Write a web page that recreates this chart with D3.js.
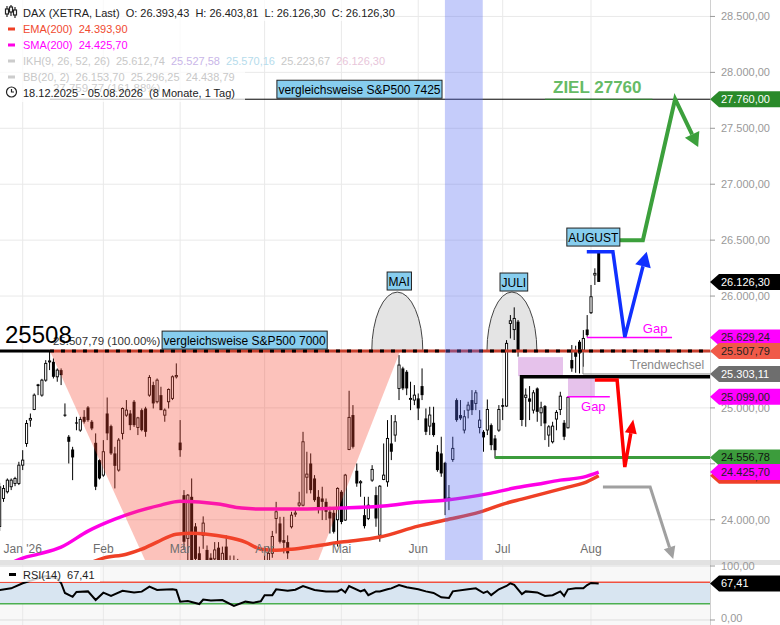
<!DOCTYPE html>
<html>
<head>
<meta charset="utf-8">
<script src="https://cdn.jsdelivr.net/npm/d3@7"></script>
<style>
  html, body { margin: 0; padding: 0; background: #fff; }
  svg { display: block; font-family: "Liberation Sans", Arial, sans-serif; }
  text { white-space: pre; }
</style>
</head>
<body>
<svg id="chart" width="780" height="625"></svg>
<script>
// ---- data (index = trading day since 18.12.2025) ----
const priceTicks = [24000, 24500, 25000, 25500, 26000, 26500, 27000, 27500, 28000, 28500];
const monthNames = ["Jan '26", "Feb", "Mär", "Apr", "Mai", "Jun", "Jul", "Aug"];
const monthIdx = [6, 27, 47, 69, 89, 109, 131, 154];

const o = [
23940,24190,24250,24295,24324,24324,24488,24682,24891,24986,
25210,25114,25248,25412,25412,25278,25338,24940,24742,24628,
24870,24801,24920,25004,24876,24688,24533,24399,24950,24837,
24593,24444,24772,24935,24950,25055,24825,24980,24995,25114,
25204,25055,25114,24935,25055,25085,25278,24690,24220,23833,
24205,23940,23700,23860,23730,23660,23650,23750,23620,23760,
23620,23530,23600,23500,23560,23470,23540,23480,23570,23500,
23600,23700,24011,23967,23818,23800,23937,24050,24130,24130,
24380,24503,24369,24205,24190,24160,24071,24062,24000,24250,
23997,24628,24936,24438,24330,24041,24011,24354,24220,23862,
24360,24339,24682,24757,25174,25353,25323,25078,25070,25085,
25195,24906,24837,24867,24608,24593,24509,24190,24539,25070,
24936,24802,24980,25070,25040,24825,24786,24802,24846,24727,
24801,25025,25016,25755,25700,25771,25270,25094,25085,24980,
25174,24956,25016,24757,24697,24900,24986,24867,24822,25428,
25517,25591,25517,25701,25851,26188,26393.43];
const h = [
24330,24310,24369,24369,24384,24518,24622,24891,24950,25129,
25215,25260,25427,25508,25442,25353,25353,25040,24757,24652,
24920,24920,24980,25016,24891,24772,24540,24712,25093,24850,
24652,24730,25004,25070,24980,25070,24920,24995,25010,25293,
25234,25263,25189,24995,25174,25290,25398,24891,24265,24230,
24369,23970,23760,24030,23770,23700,23800,23800,23760,23860,
23680,23680,23650,23640,23610,23600,23580,23620,23610,23680,
23760,23900,24160,24026,24026,23860,24071,24100,24250,24786,
24608,24593,24399,24265,24295,24190,24116,24086,24290,24265,
24410,25153,25025,24503,24354,24205,24205,24488,24295,24310,
24682,24891,24936,24936,25472,25368,25338,25234,25204,25129,
25353,24995,25010,25010,24667,24742,24518,24310,24742,25085,
25070,24980,25055,25159,25159,24980,24801,25075,24861,24757,
25025,25085,25606,25830,25899,25786,25284,25174,25195,25159,
25183,25055,25025,24846,24876,24980,25144,24891,25100,25562,
25556,25606,25696,25830,26099,26248,26403.81];
const l = [
23900,24160,24235,24265,24300,24310,24444,24652,24831,24980,
25114,25100,25234,25338,25263,25234,25204,24920,24503,24354,
24800,24786,24860,24876,24801,24265,24360,24384,24712,24580,
24280,24430,24718,24920,24801,24830,24757,24790,24742,25100,
24995,25040,24980,24876,24995,25070,25263,24563,23729,23620,
23594,23550,23450,23740,23500,23480,23580,23550,23560,23560,
23440,23450,23420,23440,23400,23420,23400,23430,23440,23450,
23560,23660,23877,23788,23699,23650,23922,24026,24116,24120,
24235,24235,24160,24056,23997,23997,23877,23877,23760,23960,
23990,24622,24637,24295,24205,23922,23997,24339,23937,23803,
24354,24295,24533,24697,25070,25159,25114,24980,25025,24891,
25070,24757,24757,24742,24429,24384,24041,24086,24518,24876,
24891,24772,24906,24936,24980,24772,24608,24757,24622,24548,
24786,24891,25010,25621,25607,25458,24837,24831,24891,24950,
24876,24837,24712,24652,24682,24800,24936,24712,24816,25323,
25314,25308,25368,25636,25840,26099,26126.30];
const c = [
24294,24280,24354,24354,24369,24488,24533,24861,24906,25114,
25195,25248,25398,25420,25278,25338,25293,24930,24697,24557,
24860,24897,24876,24891,24816,24295,24369,24608,24772,24593,
24482,24712,24995,24980,24846,24846,24911,24801,24786,25272,
25040,25248,24980,24980,25165,25278,25290,24622,23803,24220,
23639,23650,23550,23970,23580,23560,23730,23610,23700,23600,
23520,23620,23500,23580,23460,23550,23470,23560,23500,23620,
23700,23850,24071,23803,23794,23700,24041,24060,24150,24697,
24408,24265,24175,24101,24160,24071,24011,23892,24280,23980,
24399,24915,24652,24324,24340,23943,24130,24450,24011,24300,
24399,24727,24608,24876,25383,25174,25174,25085,25114,24995,
25114,24786,24936,24757,24444,24414,24175,24196,24638,24891,
24906,24921,25025,24980,25135,24891,24736,24986,24667,24622,
24986,25010,25577,25779,25800,25503,24895,25114,25055,25135,
24965,25001,24861,24831,24837,24960,25105,24742,25094,25353,
25457,25487,25621,25651,25994,26203,26126.30];

const sma200 = [[0,23560],[6,23657],[10,23692],[16,23755],[23,23898],[30,24005],[36,24077],[42,24131],
  [47,24166],[52,24158],[57,24140],[63,24104],[68,24095],[78,24095],[89,24104],[100,24122],[109,24158],
  [116,24175],[122,24202],[128,24238],[134,24283],[140,24318],[146,24354],[152,24381],[156,24425.70]];
const ema200 = [[0,23300],[20,23560],[27,23657],[33,23692],[37,23737],[41,23800],[46,23871],[50,23880],
  [54,23871],[59,23845],[64,23800],[68,23737],[72,23728],[76,23737],[82,23764],[89,23800],[99,23845],
  [109,23943],[116,23997],[125,24068],[132,24149],[136,24184],[142,24238],[148,24292],[152,24327],[156,24393.90]];
const rsi14 = [[0,55.6],[3,58.7],[6,68],[9,75],[12,81.5],[15,76.6],[16,68.5],[17,50],[19,43],[20,52],[23,53],
  [25,37],[27,50.6],[29,44.4],[32,54],[35,51],[37,52.5],[39,61.7],[41,55.6],[42,56],[45,57],[46,55.6],[47,34],
  [49,35],[52,29.6],[53,38],[55,36],[58,37],[61,26],[64,34],[66,32],[68,34.6],[69,46],[71,46],[72,56.8],[75,54],
  [77,56],[79,63],[82,55.6],[85,53],[88,53],[89,56.8],[90,51],[91,63],[94,53],[95,56],[96,46],[98,53],[99,53],
  [101,56.8],[102,58.6],[104,64.8],[106,60.5],[109,56.8],[111,53],[113,50],[115,42],[117,40.7],[118,53],
  [122,56.8],[124,58.6],[126,50],[127,53],[128,46],[130,56.8],[132,63],[133,68],[134,65],[136,48],[137,53],
  [140,51],[142,44.4],[144,46],[146,53],[147,44.4],[148,56.8],[150,58.6],[152,58.6],[153,64.8],[154,68.7],[156,67.41]];

// levels and drawings (index, price)
const fibBase = 25507.79, fibTarget = 27759.77, fibStart = 13.1;
const triangle = [[13.1, 25508], [104.3, 25508], [62.1, 21808]];
const humps = [["MAI", 96.9, 110.2], ["JULI", 126.9, 139.9]];
const humpTop = 26036;
const bandIdx = [115.95, 125.8];
const gapBoxes = [[135, 146.7, 25284, 25454], [148, 155, 25097, 25267]];
const gapLines = [[152.9, 175.1, 25629.24], [147.8, 158.9, 25099.00]];
const supportLine = [129, 24556.78];
const trendLine = [[151.9, 25500], [151.9, 25303.11], [185, 25303.11]];
const blackLine = [[135.9, 24891], [135.9, 25278], [185, 25278]];
const arrowBlue = [[152.9, 26396], [159.7, 26396], [162.8, 25633], [168.5, 26396]];
const arrowRed = [[155, 25249], [160.8, 25249], [162.8, 24471], [165, 24897]];
const arrowGreen = [[161, 26500], [167.5, 26500], [175.9, 27762], [181.9, 27333]];
const arrowGray = [[157.1, 24292], [169.4, 24292], [175.4, 23650]];
const tagNames = ["ziel", "last", "gap1", "ema", "fib", "trend", "gap2", "support", "sma"];
const tagValues = [27760, 26126.30, 25629.24, 24393.90, 25507.79, 25303.11, 25099.00, 24556.78, 24425.70];

// ---- setup ----
const de = d3.formatLocale({decimal: ",", thousands: ".", grouping: [3], currency: ["", ""]});
const fmt2 = de.format(",.2f");
const plotR = 710, mainB = 560;
const x = d3.scaleLinear().domain([0, 185]).range([-0.34, -0.34 + 185 * 3.84]);
const y = d3.scaleLinear().domain([23640, 28647]).range([mainB, 0]);
const yr = d3.scaleLinear().domain([0, 100]).range([620, 566]);
const svg = d3.select("#chart");

svg.append("rect").attr("width", 780).attr("height", 625).attr("fill", "#fff");
svg.append("rect").attr("x", 0).attr("y", 565).attr("width", plotR).attr("height", 60).attr("fill", "#f8f8f8");

// grid
const grid = svg.append("g").attr("stroke", "#e9e9e9").attr("stroke-width", 1);
grid.selectAll("line.h").data(priceTicks).join("line")
  .attr("x1", 0).attr("x2", plotR).attr("y1", d => y(d)).attr("y2", d => y(d));
grid.selectAll("line.v").data(monthIdx).join("line")
  .attr("x1", d => x(d)).attr("x2", d => x(d)).attr("y1", 0).attr("y2", 625);
grid.selectAll("line.r").data([0, 100]).join("line")
  .attr("x1", 0).attr("x2", plotR).attr("y1", d => yr(d)).attr("y2", d => yr(d)).attr("stroke", "#ddd");

svg.append("defs").append("clipPath").attr("id", "mainClip")
  .append("rect").attr("width", plotR).attr("height", mainB);
const main = svg.append("g").attr("clip-path", "url(#mainClip)");

// humps
humps.forEach(([name, i0, i1]) => {
  const x0 = x(i0), x1 = x(i1), yb = y(fibBase), rx = (x1 - x0) / 2, ry = yb - y(humpTop);
  main.append("path")
    .attr("d", `M${x0},${yb} A${rx},${ry} 0 0 1 ${x1},${yb} Z`)
    .attr("fill", "#e4e4e4").attr("stroke", "#444").attr("stroke-width", 1);
});

// candles
const candles = d3.range(o.length).map(i => ({i, o: o[i], h: h[i], l: l[i], c: c[i]}));
const cg = main.append("g");
cg.selectAll("line").data(candles).join("line")
  .attr("x1", d => x(d.i)).attr("x2", d => x(d.i))
  .attr("y1", d => y(d.h)).attr("y2", d => y(d.l))
  .attr("stroke", "#000").attr("stroke-width", 1);
cg.selectAll("rect").data(candles).join("rect")
  .attr("x", d => x(d.i) - (d.c >= d.o ? 1.1 : 1.5))
  .attr("width", d => d.c >= d.o ? 2.2 : 3)
  .attr("y", d => y(Math.max(d.o, d.c)))
  .attr("height", d => Math.max(1, Math.abs(y(d.o) - y(d.c))))
  .attr("fill", d => d.c >= d.o ? "#fff" : "#000")
  .attr("stroke", d => d.c >= d.o ? "#000" : "none")
  .attr("stroke-width", 0.9);

// moving averages
const maLine = d3.line().x(d => x(d[0])).y(d => y(d[1])).curve(d3.curveMonotoneX);
main.append("path").attr("d", maLine(ema200)).attr("fill", "none").attr("stroke", "#ef4026").attr("stroke-width", 3.5);
main.append("path").attr("d", maLine(sma200)).attr("fill", "none").attr("stroke", "#ff00e6").attr("stroke-width", 3.5);

// pink triangle overlay
main.append("path")
  .attr("d", d3.line().x(d => x(d[0])).y(d => y(d[1]))(triangle) + "Z")
  .attr("fill", "rgb(245,70,50)").attr("fill-opacity", 0.33);

const pl = d3.line().x(d => x(d[0])).y(d => y(d[1]));

// fib lines
main.append("line").attr("x1", 0).attr("x2", x(fibStart)).attr("y1", y(fibBase)).attr("y2", y(fibBase))
  .attr("stroke", "#000").attr("stroke-width", 3);
main.append("line").attr("x1", x(fibStart)).attr("x2", plotR).attr("y1", y(fibBase)).attr("y2", y(fibBase))
  .attr("stroke", "#c8402e").attr("stroke-width", 3);
main.append("line").attr("x1", x(fibStart)).attr("x2", plotR).attr("y1", y(fibBase)).attr("y2", y(fibBase))
  .attr("stroke", "#000").attr("stroke-width", 3).attr("stroke-dasharray", "4,7");
main.append("line").attr("x1", x(fibStart)).attr("x2", plotR).attr("y1", y(fibTarget)).attr("y2", y(fibTarget))
  .attr("stroke", "#000").attr("stroke-width", 1);
main.append("line").attr("x1", x(142)).attr("x2", x(170)).attr("y1", y(fibTarget)).attr("y2", y(fibTarget))
  .attr("stroke", "#2e8b2e").attr("stroke-width", 1.2);
main.append("text").attr("x", x(fibStart) + 3).attr("y", y(fibBase) - 6)
  .attr("font-size", 11.5).attr("fill", "#333").text(`${fmt2(fibBase)} (100.00%)`);
main.append("text").attr("x", x(fibStart) + 3).attr("y", y(fibTarget) - 7)
  .attr("font-size", 11.5).attr("fill", "#333").text(`${fmt2(fibTarget)} (161.88%)`);
main.append("text").attr("x", 5).attr("y", y(fibBase) - 8)
  .attr("font-size", 24).attr("fill", "#000").text(d3.format("d")(Math.round(fibBase)));

// gap boxes & lines
main.selectAll("rect.gap").data(gapBoxes).join("rect")
  .attr("x", d => x(d[0])).attr("width", d => x(d[1]) - x(d[0]))
  .attr("y", d => y(d[3])).attr("height", d => y(d[2]) - y(d[3]))
  .attr("fill", "rgb(200,120,210)").attr("fill-opacity", 0.45);
main.selectAll("line.gap").data(gapLines).join("line")
  .attr("x1", d => x(d[0])).attr("x2", d => x(d[1])).attr("y1", d => y(d[2])).attr("y2", d => y(d[2]))
  .attr("stroke", "#ff00ff").attr("stroke-width", 1.5);
main.append("text").attr("x", x(167.5)).attr("y", y(gapLines[0][2]) - 5)
  .attr("font-size", 13).attr("fill", "#ff00ff").text("Gap");
main.append("text").attr("x", x(151.4)).attr("y", y(gapLines[1][2]) + 14)
  .attr("font-size", 13).attr("fill", "#ff00ff").text("Gap");

// support / trend lines
main.append("line").attr("x1", x(supportLine[0])).attr("x2", plotR)
  .attr("y1", y(supportLine[1])).attr("y2", y(supportLine[1]))
  .attr("stroke", "#3c9c3c").attr("stroke-width", 3);
main.append("path").attr("d", pl(trendLine)).attr("fill", "none").attr("stroke", "#888").attr("stroke-width", 1);
main.append("path").attr("d", pl(blackLine)).attr("fill", "none").attr("stroke", "#000").attr("stroke-width", 3.5);
main.append("text").attr("x", x(164.1)).attr("y", y(trendLine[1][1]) - 5)
  .attr("font-size", 12).attr("fill", "#888").text("Trendwechsel");

// blue band
main.append("rect").attr("x", x(bandIdx[0])).attr("width", x(bandIdx[1]) - x(bandIdx[0]))
  .attr("y", 0).attr("height", mainB).attr("fill", "rgb(90,110,240)").attr("fill-opacity", 0.35);

// arrows
function arrow(pts, color, w, headL, headW) {
  const P = pts.map(p => [x(p[0]), y(p[1])]);
  const n = P.length, tip = P[n - 1], prev = P[n - 2];
  const dx = tip[0] - prev[0], dy = tip[1] - prev[1], len = Math.hypot(dx, dy);
  const ux = dx / len, uy = dy / len;
  const base = [tip[0] - ux * headL, tip[1] - uy * headL];
  main.append("path").attr("d", d3.line()(P.slice(0, n - 1).concat([base])))
    .attr("fill", "none").attr("stroke", color).attr("stroke-width", w);
  main.append("path")
    .attr("d", d3.line()([tip, [base[0] - uy * headW, base[1] + ux * headW], [base[0] + uy * headW, base[1] - ux * headW]]) + "Z")
    .attr("fill", color);
}
arrow(arrowBlue, "#1030ff", 3.5, 15, 8);
arrow(arrowRed, "#ff0000", 3.5, 14, 6);
arrow(arrowGreen, "#3ca03c", 4, 14, 8);
arrow(arrowGray, "#a0a0a0", 3, 12, 6);

main.append("text").attr("x", 553).attr("y", y(fibTarget) - 6)
  .attr("font-size", 17).attr("font-weight", "bold").attr("fill", "#66bb66").text("ZIEL 27760");

// label boxes
function labelBox(txt, i, p, off) {
  const g = main.append("g");
  const t = g.append("text").attr("font-size", 12).attr("fill", "#000").text(txt);
  const w = t.node().getComputedTextLength();
  const bx = x(i), by = y(p) + off;
  g.insert("rect", "text").attr("x", bx).attr("y", by - 18).attr("width", w + 3).attr("height", 18)
    .attr("fill", "#87cdee").attr("stroke", "#222").attr("stroke-width", 1);
  t.attr("x", bx + 1.5).attr("y", by - 4.5);
}
labelBox("vergleichsweise S&P500 7000", 42.3, fibBase, -2);
labelBox("vergleichsweise S&P500 7425", 72.2, fibTarget, -1);
labelBox("MAI", 100.9, humpTop, -2);
labelBox("JULI", 130.3, humpTop, -1);
labelBox("AUGUST", 147.7, 26447, 0);

// month labels
svg.selectAll("text.month").data(monthNames).join("text")
  .attr("x", (d, k) => x(monthIdx[k])).attr("y", 553).attr("text-anchor", "middle")
  .attr("font-size", 12).attr("fill", "#6e6e6e").text(d => d);

// separator
svg.append("rect").attr("x", 0).attr("y", 560).attr("width", 780).attr("height", 5).attr("fill", "#e2e2e2");

// RSI pane
svg.append("rect").attr("x", 0).attr("y", yr(70)).attr("width", plotR).attr("height", yr(30) - yr(70)).attr("fill", "#d8e5f1");
svg.append("line").attr("x1", 0).attr("x2", plotR).attr("y1", yr(70)).attr("y2", yr(70)).attr("stroke", "#f05040").attr("stroke-width", 1.5);
svg.append("line").attr("x1", 0).attr("x2", plotR).attr("y1", yr(30)).attr("y2", yr(30)).attr("stroke", "#4caf50").attr("stroke-width", 1.5);
svg.append("path").attr("d", d3.line().x(d => x(d[0])).y(d => yr(d[1]))(rsi14))
  .attr("fill", "none").attr("stroke", "#000").attr("stroke-width", 2);
svg.append("rect").attr("x", 0).attr("y", 567).attr("width", 100).attr("height", 15).attr("fill", "#fff").attr("fill-opacity", 0.8);
svg.append("rect").attr("x", 9).attr("y", 573).attr("width", 7).attr("height", 3).attr("fill", "#000");
svg.append("text").attr("x", 23).attr("y", 579).attr("font-size", 11).attr("fill", "#222")
  .text(`RSI(14)  ${de.format(".2f")(rsi14[rsi14.length - 1][1])}`);

// legend
svg.append("rect").attr("x", 0).attr("y", 0).attr("width", 245).attr("height", 102).attr("fill", "#fff").attr("fill-opacity", 0.75);
svg.append("rect").attr("x", 245).attr("y", 0).attr("width", 150).attr("height", 21).attr("fill", "#fff").attr("fill-opacity", 0.75);
const last = o.length - 1;
const lg = svg.append("g").attr("font-size", 11);
const ic = lg.append("g").attr("stroke", "#222").attr("stroke-width", 1.2).attr("fill", "none");
[[7, 6, 17, 9, 14], [11, 5, 16, 7, 12], [15, 7, 18, 10, 15]].forEach(([cx, y1, y2, b1, b2]) => {
  ic.append("line").attr("x1", cx).attr("x2", cx).attr("y1", y1).attr("y2", y2);
  ic.append("rect").attr("x", cx - 1.5).attr("y", b1).attr("width", 3).attr("height", b2 - b1).attr("fill", "#fff");
});
lg.append("text").attr("x", 23).attr("y", 17).attr("fill", "#222")
  .text(`DAX (XETRA, Last)  O: ${fmt2(o[last])}  H: ${fmt2(h[last])}  L: ${fmt2(l[last])}  C: ${fmt2(c[last])}`);
const legendRows = [
  ["#ef4026", [[`EMA(200)  ${fmt2(ema200[ema200.length - 1][1])}`, "#f04a30"]]],
  ["#ff00e6", [[`SMA(200)  ${fmt2(sma200[sma200.length - 1][1])}`, "#ff00ff"]]],
  ["#cccccc", [["IKH(9, 26, 52, 26)  25.612,74  ", "#c8c8c8"], ["25.527,58  ", "#c9b6e8"], ["25.570,16  ", "#b6dcec"], ["25.223,67  ", "#c8c8c8"], ["26.126,30", "#e8c6da"]]],
  ["#cccccc", [["BB(20, 2)  26.153,70  25.296,25  24.438,79", "#c8c8c8"]]]
];
legendRows.forEach(([mark, parts], k) => {
  const yy = 33 + k * 16;
  lg.append("rect").attr("x", 8).attr("y", yy - 5.5).attr("width", 7).attr("height", 3).attr("fill", mark);
  const t = lg.append("text").attr("x", 23).attr("y", yy);
  parts.forEach(([s, col]) => t.append("tspan").attr("fill", col).text(s));
});
lg.append("circle").attr("cx", 11.5).attr("cy", 92).attr("r", 5).attr("fill", "none").attr("stroke", "#222").attr("stroke-width", 1.2);
lg.append("path").attr("d", "M11.5,89 V92 H14").attr("fill", "none").attr("stroke", "#222").attr("stroke-width", 1.2);
lg.append("text").attr("x", 23).attr("y", 97).attr("fill", "#222").text("18.12.2025 - 05.08.2026  (8 Monate, 1 Tag)");

// right axis
svg.append("line").attr("x1", plotR + 0.5).attr("x2", plotR + 0.5).attr("y1", 0).attr("y2", 625).attr("stroke", "#d0d0d0");
const ax = svg.append("g");
ax.selectAll("line").data(priceTicks).join("line")
  .attr("x1", plotR).attr("x2", plotR + 5).attr("y1", d => y(d)).attr("y2", d => y(d)).attr("stroke", "#999");
ax.selectAll("text").data(priceTicks).join("text")
  .attr("x", 721).attr("y", d => y(d)).attr("dy", "0.35em").attr("font-size", 11).attr("fill", "#999")
  .text(d => fmt2(d));
const rax = svg.append("g");
rax.selectAll("line").data([0, 100]).join("line")
  .attr("x1", plotR).attr("x2", plotR + 5).attr("y1", d => yr(d)).attr("y2", d => yr(d)).attr("stroke", "#999");
rax.selectAll("text").data([0, 100]).join("text")
  .attr("x", 721).attr("y", d => Math.min(yr(d), 618)).attr("dy", "0.35em").attr("font-size", 11).attr("fill", "#999")
  .text(d => fmt2(d));

// price tags
const tagStyle = {
  ziel: ["#2a8a2a", "#fff"], last: ["#000", "#fff"], gap1: ["#ff00ff", "#222"], ema: ["#f0402a", "#222"],
  fib: ["#f05a48", "#222"], trend: ["#6e6e6e", "#fff"], gap2: ["#ff00ff", "#222"],
  support: ["#3c9c3c", "#111"], sma: ["#ff00ff", "#222"]
};
function tag(yy, txt, bg, fg) {
  svg.append("path").attr("d", `M${plotR},${yy} L${plotR + 9},${yy - 8} H780 V${yy + 8} H${plotR + 9} Z`).attr("fill", bg);
  svg.append("text").attr("x", 721).attr("y", yy).attr("dy", "0.35em").attr("font-size", 11).attr("fill", fg).text(txt);
}
tagNames.forEach((n, k) => tag(y(tagValues[k]), fmt2(tagValues[k]), tagStyle[n][0], tagStyle[n][1]));
tag(yr(rsi14[rsi14.length - 1][1]), de.format(".2f")(rsi14[rsi14.length - 1][1]), "#000", "#fff");
</script>
</body>
</html>
